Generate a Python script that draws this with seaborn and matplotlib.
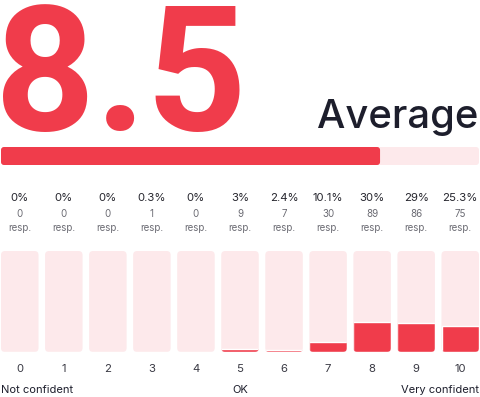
import matplotlib
matplotlib.use("Agg")
import matplotlib.pyplot as plt
import matplotlib.transforms as mtransforms
from matplotlib.patches import FancyBboxPatch
import seaborn as sns
import pandas as pd

# ---- data ----
scores = ["0", "1", "2", "3", "4", "5", "6", "7", "8", "9", "10"]
percent_labels = ["0%", "0%", "0%", "0.3%", "0%", "3%", "2.4%", "10.1%", "30%", "29%", "25.3%"]
percents = [0, 0, 0, 0.3, 0, 3, 2.4, 10.1, 30, 29, 25.3]
responses = [0, 0, 0, 1, 0, 9, 7, 30, 89, 86, 75]
average = "8.5"
average_fill = 79.3  # filled share of the progress bar (%)
scale_labels = ["Not confident", "OK", "Very confident"]

RED = "#f03c4b"
PINK = "#fde9eb"
DARK = "#1d1e2c"
GREY = "#6b6b73"

sns.set_theme(style="white")
plt.rcParams["font.family"] = ["Inter", "DejaVu Sans"]

W, H = 480, 397
fig = plt.figure(figsize=(W / 100, H / 100), dpi=100)


def fy(py):
    return 1 - py / H


def axes_px(x0, y0, x1, y1):
    return fig.add_axes([x0 / W, 1 - y1 / H, (x1 - x0) / W, (y1 - y0) / H])


# ---- headline ----
fig.text(-5 / W, fy(130), average, fontsize=126, fontweight="bold", color=RED,
         ha="left", va="baseline", family=["Roboto", "DejaVu Sans"])
fig.text(478 / W, fy(128), "Average", fontsize=28.8, fontweight="medium", color=DARK,
         ha="right", va="baseline")

# ---- progress bar ----
pax = axes_px(1, 147, 479, 165)
prog = pd.DataFrame({"k": ["avg"], "track": [100.0], "fill": [average_fill]})
sns.barplot(data=prog, y="k", x="track", color=PINK, width=1.0, ax=pax, orient="h",
            saturation=1)
sns.barplot(data=prog, y="k", x="fill", color=RED, width=1.0, ax=pax, orient="h",
            saturation=1)
pax.set_xlim(0, 100)
pax.set_ylim(0.5, -0.5)
pax.axis("off")
rp = 3.0  # corner radius px
for p in list(pax.patches):
    x, y, w, h = p.get_x(), p.get_y(), p.get_width(), p.get_height()
    fc = p.get_facecolor()
    p.remove()
    sx = 478 / 100  # px per x unit
    sy = 18 / 1.0   # px per y unit
    fb = FancyBboxPatch((x, y), w, h, boxstyle=f"round,pad=0,rounding_size={rp / sx}",
                        mutation_aspect=(rp / sy) / (rp / sx), facecolor=fc,
                        edgecolor="none")
    pax.add_patch(fb)

# ---- distribution bars ----
bw = 37.5 / 44.05
half = bw / 2
ax = axes_px(1, 251, 479, 352)
df = pd.DataFrame({"score": scores, "full": [100] * len(scores), "pct": percents})
sns.barplot(data=df, x="score", y="full", color=PINK, width=bw, ax=ax, saturation=1)
n_bg = len(ax.patches)
sns.barplot(data=df, x="score", y="pct", color=RED, width=bw, ax=ax, saturation=1)
ax.set_xlim(-half, len(scores) - 1 + half)
ax.set_ylim(0, 100)

sx = 478 / (len(scores) - 1 + bw)
sy = 101 / 100
r = 4.0
patches = list(ax.patches)
bg, fg = patches[:n_bg], patches[n_bg:]
rounded = []
for p in bg:
    x, y, w, h = p.get_x(), p.get_y(), p.get_width(), p.get_height()
    p.remove()
    fb = FancyBboxPatch((x, y), w, h, boxstyle=f"round,pad=0,rounding_size={r / sx}",
                        mutation_aspect=(r / sy) / (r / sx), facecolor=PINK,
                        edgecolor="none", zorder=1)
    ax.add_patch(fb)
    rounded.append(fb)
for p, clip in zip(fg, rounded):
    p.set_zorder(2)
    p.set_clip_path(clip)

for s in ax.spines.values():
    s.set_visible(False)
ax.set_yticks([])
ax.set_xlabel("")
ax.set_ylabel("")
ax.tick_params(axis="x", length=0, pad=9, labelsize=8.2, labelcolor="#3a3a44")

trans = mtransforms.blended_transform_factory(ax.transData, fig.transFigure)
for i, (pl, n) in enumerate(zip(percent_labels, responses)):
    ax.text(i, fy(198), pl, transform=trans, ha="center", va="center",
            fontsize=8.2, color="#26262e")
    ax.text(i, fy(214), str(n), transform=trans, ha="center", va="center",
            fontsize=7.0, color=GREY)
    ax.text(i, fy(228), "resp.", transform=trans, ha="center", va="center",
            fontsize=7.0, color=GREY)

fig.text(1 / W, fy(390), scale_labels[0], ha="left", va="center", fontsize=8.0, color=DARK)
ax.text(5, fy(390), scale_labels[1], transform=trans, ha="center", va="center",
        fontsize=8.0, color=DARK)
fig.text(479 / W, fy(390), scale_labels[2], ha="right", va="center", fontsize=8.0, color=DARK)

fig.savefig("out.png", dpi=100)
